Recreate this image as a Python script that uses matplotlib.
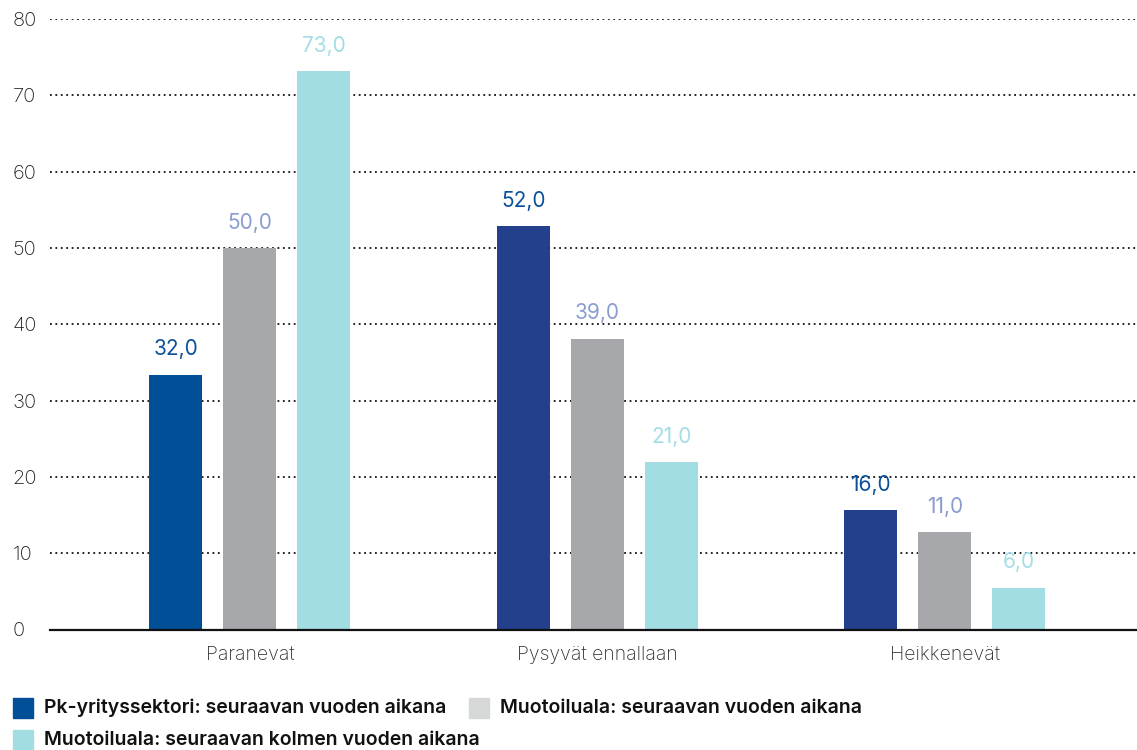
import matplotlib.pyplot as plt
import numpy as np
from matplotlib.patches import Rectangle

plt.rcParams["font.family"] = ["Inter", "DejaVu Sans"]

categories = ["Paranevat", "Pysyvät ennallaan", "Heikkenevät"]
series_names = [
    "Pk-yrityssektori: seuraavan vuoden aikana",
    "Muotoiluala: seuraavan vuoden aikana",
    "Muotoiluala: seuraavan kolmen vuoden aikana",
]
# bar heights as drawn in the picture
pk_heights = [33.4, 52.9, 15.6]
muoto1_heights = [50.0, 38.1, 12.8]
muoto3_heights = [73.2, 21.9, 5.5]
# value labels printed above the bars
pk_labels = ["32,0", "52,0", "16,0"]
muoto1_labels = ["50,0", "39,0", "11,0"]
muoto3_labels = ["73,0", "21,0", "6,0"]
y_ticks = [0, 10, 20, 30, 40, 50, 60, 70, 80]

PK_FIRST = "#004f97"
PK_DARK = "#243f8c"
GRAY = "#a7a8ac"
GRAY_LEGEND = "#d6d7d9"
CYAN = "#a3dde4"
LBL_PK = "#0b519a"
LBL_GRAY = "#8b9dd0"
LBL_CYAN = "#a5dde6"

fig = plt.figure(figsize=(11.37, 7.5), dpi=100)
ax = fig.add_axes([50 / 1137, 1 - 629.5 / 750, 1 - 50 / 1137, (629.5 - 19) / 750])

x = np.arange(len(categories))
off = 0.213
w = 0.1525

pk_colors = [PK_FIRST, PK_DARK, PK_DARK]
b1 = ax.bar(x - off, pk_heights, w, color=pk_colors, zorder=3)
b2 = ax.bar(x, muoto1_heights, w, color=GRAY, zorder=3)
b3 = ax.bar(x + off, muoto3_heights, w, color=CYAN, zorder=3)

for bars, labels, col in [(b1, pk_labels, LBL_PK), (b2, muoto1_labels, LBL_GRAY),
                          (b3, muoto3_labels, LBL_CYAN)]:
    for rect, lab in zip(bars, labels):
        ax.annotate(lab, (rect.get_x() + rect.get_width() / 2, rect.get_height()),
                    xytext=(0, 11), textcoords="offset points",
                    ha="center", va="bottom", fontsize=15, color=col)

ax.set_xlim(-0.5755, 2.553)
ax.set_ylim(0, 80)
ax.set_yticks(y_ticks)
ax.set_yticklabels([str(t) for t in y_ticks])
for t in ax.get_yticklabels():
    t.set_horizontalalignment("left")
    t.set_fontweight("light")
ax.tick_params(axis="y", length=0, pad=27, labelsize=14.5, labelcolor="#222222")
ax.set_xticks(x)
ax.set_xticklabels(categories)
for t in ax.get_xticklabels():
    t.set_fontweight("light")
ax.tick_params(axis="x", length=0, pad=12, labelsize=14, labelcolor="#333333")

for t in y_ticks[1:]:
    ax.axhline(t, color="#111111", lw=1.3, ls=(0, (1, 2.0)), zorder=1)
for s in ["top", "right", "left"]:
    ax.spines[s].set_visible(False)
ax.spines["bottom"].set_linewidth(1.6)
ax.spines["bottom"].set_color("#111111")
ax.spines["bottom"].set_zorder(4)

# legend drawn by hand to keep the reference layout
legend_items = [
    (13, 708, PK_FIRST, series_names[0]),
    (469, 708, GRAY_LEGEND, series_names[1]),
    (13, 740, CYAN, series_names[2]),
]
for px, py, col, name in legend_items:
    fig.patches.append(Rectangle((px / 1137, 1 - (py + 10) / 750), 20 / 1137, 20 / 750,
                                 transform=fig.transFigure, color=col))
    fig.text((px + 31) / 1137, 1 - py / 750, name, ha="left", va="center",
             fontsize=14, fontweight="semibold", color="#111111")

fig.savefig("out.png", dpi=100)
